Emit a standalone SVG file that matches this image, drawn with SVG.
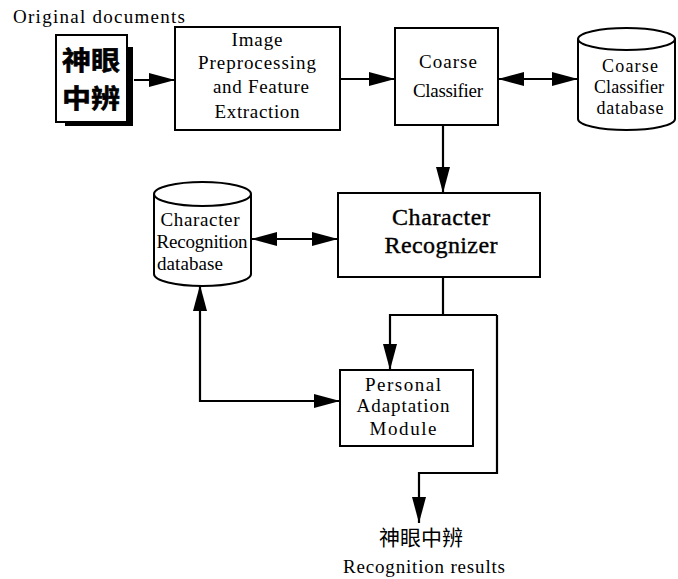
<svg xmlns="http://www.w3.org/2000/svg" width="678" height="579" viewBox="0 0 678 579">
  <defs>
    <marker id="arrow" markerUnits="userSpaceOnUse" markerWidth="26" markerHeight="14" viewBox="0 0 26 14" refX="26" refY="7" orient="auto-start-reverse">
      <path d="M0,0 L26,7 L0,14 Z" fill="#000"/>
    </marker>
  </defs>
  <style>
    .box { fill: #fff; stroke: #000; stroke-width: 2; }
    .line { fill: none; stroke: #000; stroke-width: 2.2; }
    .t { font-family: "Liberation Serif", "Times New Roman", serif; font-size: 19px; fill: #000; text-anchor: middle; }
    .s { font-size: 18px; }
    .big { font-size: 24px; stroke: #000; stroke-width: 0.4; }
    .cjk { font-family: "Noto Sans CJK TC", "Noto Sans CJK SC", sans-serif; fill: #000; text-anchor: middle; }
    .doc { font-size: 26px; font-weight: bold; stroke: #000; stroke-width: 0.6; }
  </style>
  <rect width="678" height="579" fill="#fff"/>

  <text class="t" x="13" y="23" style="text-anchor:start" textLength="172" lengthAdjust="spacing">Original documents</text>

  <!-- source document icon with drop shadow -->
  <g id="original-documents">
    <path d="M127,47 H133 V126 H65 V122 H127 Z" fill="#000"/>
    <rect x="56" y="35" width="71" height="87" class="box"/>
    <text class="cjk doc" x="91" y="70" textLength="58" lengthAdjust="spacingAndGlyphs">神眼</text>
    <text class="cjk doc" x="91" y="108" textLength="58" lengthAdjust="spacingAndGlyphs">中辨</text>
  </g>

  <g id="preprocessing">
    <rect x="175" y="27" width="165" height="103" class="box"/>
    <text class="t" x="257" y="46" textLength="51" lengthAdjust="spacing">Image</text>
    <text class="t" x="257" y="69" textLength="118" lengthAdjust="spacing">Preprocessing</text>
    <text class="t" x="261" y="93" textLength="96" lengthAdjust="spacing">and Feature</text>
    <text class="t" x="257" y="118" textLength="85" lengthAdjust="spacing">Extraction</text>
  </g>

  <g id="coarse-classifier">
    <rect x="395" y="28" width="103" height="97" class="box"/>
    <text class="t" x="448" y="68" textLength="58" lengthAdjust="spacing">Coarse</text>
    <text class="t" x="448" y="97" textLength="70" lengthAdjust="spacing">Classifier</text>
  </g>

  <g id="coarse-db">
    <path d="M578,39 V119 A48.5,11 0 0 0 675,119 V39" class="box"/>
    <ellipse cx="626.5" cy="39" rx="48.5" ry="11" class="box"/>
    <text class="t s" x="630" y="72" textLength="56" lengthAdjust="spacing">Coarse</text>
    <text class="t s" x="629" y="93" textLength="70" lengthAdjust="spacing">Classifier</text>
    <text class="t s" x="630" y="114" textLength="67" lengthAdjust="spacing">database</text>
  </g>

  <g id="character-recognizer">
    <rect x="338" y="193" width="202" height="84" class="box"/>
    <text class="t big" x="441" y="225" textLength="98" lengthAdjust="spacing">Character</text>
    <text class="t big" x="441" y="253" textLength="113" lengthAdjust="spacing">Recognizer</text>
  </g>

  <g id="character-db">
    <path d="M154,194 V274 A48.5,12 0 0 0 251,274 V194" class="box"/>
    <ellipse cx="202.5" cy="194" rx="48.5" ry="12" class="box"/>
    <text class="t" x="200" y="226" textLength="79" lengthAdjust="spacing">Character</text>
    <text class="t" x="202" y="248" textLength="91" lengthAdjust="spacing">Recognition</text>
    <text class="t" x="190" y="270" textLength="66" lengthAdjust="spacing">database</text>
  </g>

  <g id="personal-adaptation">
    <rect x="340" y="370" width="133" height="76" class="box"/>
    <text class="t" x="403" y="391" textLength="76" lengthAdjust="spacing">Personal</text>
    <text class="t" x="403" y="412" textLength="93" lengthAdjust="spacing">Adaptation</text>
    <text class="t" x="403" y="435" textLength="67" lengthAdjust="spacing">Module</text>
  </g>

  <g id="results">
    <text class="cjk" x="421" y="545" font-size="21">神眼中辨</text>
    <text class="t" x="424" y="573" textLength="162" lengthAdjust="spacing">Recognition results</text>
  </g>

  <g id="connectors">
    <line x1="134" y1="80" x2="175" y2="80" class="line" marker-end="url(#arrow)"/>
    <line x1="340" y1="79" x2="395" y2="79" class="line" marker-end="url(#arrow)"/>
    <line x1="498" y1="79" x2="578" y2="79" class="line" marker-start="url(#arrow)" marker-end="url(#arrow)"/>
    <line x1="443" y1="125" x2="443" y2="193" class="line" marker-end="url(#arrow)"/>
    <line x1="251" y1="239" x2="338" y2="239" class="line" marker-start="url(#arrow)" marker-end="url(#arrow)"/>
    <polyline points="443,277 443,315" class="line"/>
    <polyline points="497,315 390,315 390,370" class="line" marker-end="url(#arrow)"/>
    <polyline points="497,315 497,473 419,473 419,523" class="line" marker-end="url(#arrow)"/>
    <polyline points="200,285 200,401 340,401" class="line" marker-start="url(#arrow)" marker-end="url(#arrow)"/>
  </g>
</svg>
